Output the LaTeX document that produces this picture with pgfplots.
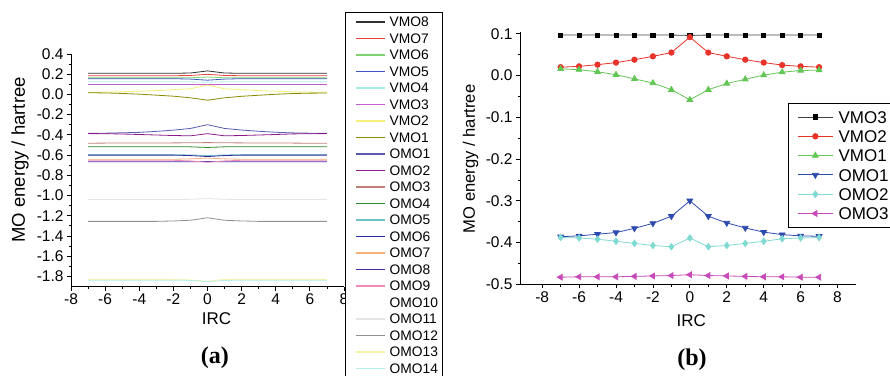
\documentclass[border=0pt]{standalone}
\usepackage{fontspec}
\setmainfont{Liberation Sans}
\newfontfamily\serifbf{Liberation Serif}
\usepackage{pgfplots}
\usepackage{pgfplotstable}
\pgfplotsset{compat=1.18}

\definecolor{cVMOe}{HTML}{303030}
\definecolor{cVMOs}{HTML}{E8413C}
\definecolor{cVMOsix}{HTML}{7ED36E}
\definecolor{cVMOfive}{HTML}{3A56C0}
\definecolor{cVMOfour}{HTML}{A8ECE6}
\definecolor{cVMOthree}{HTML}{C85CC8}
\definecolor{cVMOtwo}{HTML}{F5EE7A}
\definecolor{cVMOone}{HTML}{8A8A00}
\definecolor{cOMOone}{HTML}{5A5AB0}
\definecolor{cOMOtwo}{HTML}{8A1A8A}
\definecolor{cOMOthree}{HTML}{C08078}
\definecolor{cOMOfour}{HTML}{2A8A2A}
\definecolor{cOMOfive}{HTML}{6CC4C4}
\definecolor{cOMOsix}{HTML}{2A2AA0}
\definecolor{cOMOseven}{HTML}{F6B27A}
\definecolor{cOMOeight}{HTML}{4A2AA8}
\definecolor{cOMOnine}{HTML}{F088B8}
\definecolor{cOMOten}{HTML}{FFFFFF}
\definecolor{cOMOeleven}{HTML}{E4E4E4}
\definecolor{cOMOtwelve}{HTML}{909090}
\definecolor{cOMOthirteen}{HTML}{F8F2A8}
\definecolor{cOMOfourteen}{HTML}{B4ECEC}

\definecolor{rVMOthree}{HTML}{404040}
\definecolor{rVMOtwo}{HTML}{E8332A}
\definecolor{rVMOone}{HTML}{62C654}
\definecolor{rOMOone}{HTML}{2F4AAE}
\definecolor{rOMOtwo}{HTML}{7FDAD2}
\definecolor{rOMOthree}{HTML}{C64AB8}

\pgfplotstableread{
x VMO8 VMO7 VMO6 VMO5 VMO4 VMO3 VMO2 VMO1 OMO1 OMO2 OMO3 OMO4 OMO5 OMO6 OMO7 OMO8 OMO9 OMO10 OMO11 OMO12 OMO13 OMO14
-7 0.208 0.184 0.163 0.155 0.125 0.097 0.020 0.016 -0.386 -0.388 -0.483 -0.518 -0.598 -0.601 -0.642 -0.667 -0.652 -0.900 -1.040 -1.256 -1.832 -1.838
-6 0.208 0.184 0.163 0.155 0.125 0.097 0.022 0.014 -0.384 -0.389 -0.482 -0.518 -0.598 -0.601 -0.642 -0.667 -0.652 -0.900 -1.040 -1.256 -1.832 -1.838
-5 0.208 0.184 0.163 0.155 0.125 0.097 0.026 0.009 -0.380 -0.392 -0.482 -0.518 -0.598 -0.601 -0.642 -0.667 -0.652 -0.900 -1.040 -1.256 -1.832 -1.838
-4 0.208 0.184 0.163 0.155 0.125 0.097 0.031 0.002 -0.376 -0.397 -0.482 -0.518 -0.598 -0.601 -0.642 -0.667 -0.652 -0.900 -1.040 -1.256 -1.832 -1.838
-3 0.208 0.184 0.163 0.155 0.125 0.097 0.038 -0.008 -0.366 -0.402 -0.481 -0.518 -0.598 -0.601 -0.642 -0.667 -0.652 -0.900 -1.040 -1.256 -1.832 -1.838
-2 0.208 0.184 0.163 0.155 0.125 0.097 0.046 -0.018 -0.354 -0.407 -0.480 -0.518 -0.598 -0.601 -0.642 -0.667 -0.652 -0.900 -1.040 -1.252 -1.832 -1.838
-1 0.211 0.187 0.164 0.151 0.124 0.097 0.055 -0.034 -0.337 -0.410 -0.479 -0.519 -0.599 -0.605 -0.638 -0.666 -0.658 -0.900 -1.038 -1.245 -1.835 -1.840
0 0.232 0.198 0.172 0.140 0.120 0.096 0.092 -0.058 -0.300 -0.389 -0.477 -0.525 -0.605 -0.615 -0.630 -0.664 -0.672 -0.900 -1.030 -1.220 -1.848 -1.852
1 0.211 0.187 0.164 0.151 0.124 0.097 0.055 -0.034 -0.337 -0.410 -0.479 -0.519 -0.599 -0.605 -0.638 -0.666 -0.658 -0.900 -1.038 -1.245 -1.830 -1.840
2 0.208 0.184 0.163 0.155 0.125 0.097 0.046 -0.019 -0.353 -0.407 -0.480 -0.518 -0.598 -0.601 -0.642 -0.667 -0.652 -0.900 -1.040 -1.252 -1.832 -1.838
3 0.208 0.184 0.163 0.155 0.125 0.097 0.038 -0.009 -0.365 -0.402 -0.481 -0.518 -0.598 -0.601 -0.642 -0.667 -0.652 -0.900 -1.040 -1.256 -1.832 -1.838
4 0.208 0.184 0.163 0.155 0.125 0.097 0.031 0.001 -0.375 -0.397 -0.482 -0.518 -0.598 -0.601 -0.642 -0.667 -0.652 -0.900 -1.040 -1.256 -1.832 -1.838
5 0.208 0.184 0.163 0.155 0.125 0.097 0.025 0.008 -0.381 -0.391 -0.482 -0.518 -0.598 -0.601 -0.642 -0.667 -0.652 -0.900 -1.040 -1.256 -1.832 -1.838
6 0.208 0.184 0.163 0.155 0.125 0.097 0.022 0.012 -0.384 -0.389 -0.483 -0.518 -0.598 -0.601 -0.642 -0.667 -0.652 -0.900 -1.040 -1.256 -1.832 -1.838
7 0.208 0.184 0.163 0.155 0.125 0.097 0.020 0.013 -0.385 -0.388 -0.483 -0.518 -0.598 -0.601 -0.642 -0.667 -0.652 -0.900 -1.040 -1.256 -1.832 -1.838
}\irctable

\pgfplotsset{
  common/.style={
    scale only axis,
    clip mode=individual,
    axis lines=left,
    axis line style={-, line width=0.8pt, black},
    tick align=outside,
    tick style={black, line width=0.8pt},
    major tick length=4pt, minor tick length=2.5pt,
    minor x tick num=1, minor y tick num=1,
    xtick={-8,-6,-4,-2,0,2,4,6,8},
    tick label style={font=\fontsize{15.5}{15.5}\selectfont},
    /pgf/number format/assume math mode=true,
    y tick label style={/pgf/number format/.cd, fixed, fixed zerofill, precision=1, /tikz/.cd},
    x tick label style={/pgf/number format/.cd, fixed, precision=0, /tikz/.cd},
    legend cell align=left,
  },
}

\begin{document}
\begin{tikzpicture}
\useasboundingbox (0pt,0pt) rectangle (890pt,375pt);

% ---------- (a)
\begin{axis}[common,
  at={(71pt,88.5pt)}, anchor=south west,
  width=273pt, height=232.6pt,
  xmin=-8, xmax=8, ymin=-1.9, ymax=0.4,
  ytick={-1.8,-1.6,-1.4,-1.2,-1.0,-0.8,-0.6,-0.4,-0.2,0,0.2,0.4},
  xlabel={IRC},
  xlabel style={at={(axis description cs:0.533,-0.1655)}, anchor=base, font=\fontsize{17}{17}\selectfont},
  ylabel={MO energy / hartree},
  ylabel style={at={(axis description cs:-0.1685,0.544)}, anchor=base, rotate=0, font=\fontsize{18.5}{18.5}\selectfont},
  legend style={at={(axis description cs:1.0037,1.1814)}, anchor=north west,
    draw=black, line width=0.7pt, fill=white,
    inner xsep=4.3pt, inner ysep=5pt, row sep=6.6pt, column sep=4.3pt,
    font=\fontsize{13.8}{14}\selectfont,
    nodes={inner sep=0pt, text height=9.9pt, text depth=0pt}},
  legend image code/.code={\path (0pt,0pt); \draw[#1, line width=1.1pt] (5.7pt,0pt) -- (34.7pt,0pt);},
  every axis plot/.append style={line width=0.8pt, no markers},
]
\addplot[cVMOe] table[x=x,y=VMO8] {\irctable}; \addlegendentry{VMO8}
\addplot[cVMOs] table[x=x,y=VMO7] {\irctable}; \addlegendentry{VMO7}
\addplot[cVMOsix] table[x=x,y=VMO6] {\irctable}; \addlegendentry{VMO6}
\addplot[cVMOfive] table[x=x,y=VMO5] {\irctable}; \addlegendentry{VMO5}
\addplot[cVMOfour] table[x=x,y=VMO4] {\irctable}; \addlegendentry{VMO4}
\addplot[cVMOthree] table[x=x,y=VMO3] {\irctable}; \addlegendentry{VMO3}
\addplot[cVMOtwo] table[x=x,y=VMO2] {\irctable}; \addlegendentry{VMO2}
\addplot[cVMOone] table[x=x,y=VMO1] {\irctable}; \addlegendentry{VMO1}
\addplot[cOMOone] table[x=x,y=OMO1] {\irctable}; \addlegendentry{OMO1}
\addplot[cOMOtwo] table[x=x,y=OMO2] {\irctable}; \addlegendentry{OMO2}
\addplot[cOMOthree] table[x=x,y=OMO3] {\irctable}; \addlegendentry{OMO3}
\addplot[cOMOfour] table[x=x,y=OMO4] {\irctable}; \addlegendentry{OMO4}
\addplot[cOMOfive] table[x=x,y=OMO5] {\irctable}; \addlegendentry{OMO5}
\addplot[cOMOsix] table[x=x,y=OMO6] {\irctable}; \addlegendentry{OMO6}
\addplot[cOMOseven] table[x=x,y=OMO7] {\irctable}; \addlegendentry{OMO7}
\addplot[cOMOeight] table[x=x,y=OMO8] {\irctable}; \addlegendentry{OMO8}
\addplot[cOMOnine] table[x=x,y=OMO9] {\irctable}; \addlegendentry{OMO9}
\addplot[cOMOten] table[x=x,y=OMO10] {\irctable}; \addlegendentry{OMO10}
\addplot[cOMOeleven] table[x=x,y=OMO11] {\irctable}; \addlegendentry{OMO11}
\addplot[cOMOtwelve] table[x=x,y=OMO12] {\irctable}; \addlegendentry{OMO12}
\addplot[cOMOthirteen] table[x=x,y=OMO13] {\irctable}; \addlegendentry{OMO13}
\addplot[cOMOfourteen] table[x=x,y=OMO14] {\irctable}; \addlegendentry{OMO14}
\node[anchor=base, font=\serifbf\bfseries\fontsize{24}{24}\selectfont] at (axis description cs:0.527,-0.330) {(a)};
\end{axis}

% ---------- (b)
\begin{axis}[common,
  at={(520pt,90.7pt)}, anchor=south west,
  width=336pt, height=252.6pt,
  xmin=-9.2, xmax=9, ymin=-0.5, ymax=0.105,
  ytick={-0.5,-0.4,-0.3,-0.2,-0.1,0,0.1},
  xlabel={IRC},
  xlabel style={at={(axis description cs:0.51,-0.168)}, anchor=base, font=\fontsize{17}{17}\selectfont},
  ylabel={MO energy / hartree},
  ylabel style={at={(axis description cs:-0.134,0.496)}, anchor=base, rotate=0, font=\fontsize{16.6}{16.6}\selectfont},
  legend style={at={(axis description cs:0.797,0.719)}, anchor=north west,
    draw=black, line width=0.7pt, fill=white,
    inner xsep=3.5pt, inner ysep=7.9pt, row sep=7.1pt, column sep=5pt,
    font=\fontsize{17}{17}\selectfont,
    nodes={inner sep=0pt, text height=12.2pt, text depth=0pt}},
  legend image code/.code={\path (0pt,0pt); \draw[mark repeat=2, mark phase=2, #1, line width=0.9pt] plot coordinates {(5.5pt,0pt) (23.3pt,0pt) (41.1pt,0pt)};},
  every axis plot/.append style={line width=0.8pt},
]
\addplot[rVMOthree, mark=square*, mark size=2.1pt, mark options={solid, fill=black, draw=black}] table[x=x,y=VMO3] {\irctable}; \addlegendentry{VMO3}
\addplot[rVMOtwo, mark=*, mark size=2.7pt, mark options={solid, fill=rVMOtwo, draw=rVMOtwo}] table[x=x,y=VMO2] {\irctable}; \addlegendentry{VMO2}
\addplot[rVMOone, mark=triangle*, mark size=3.3pt, mark options={solid, fill=rVMOone, draw=rVMOone}] table[x=x,y=VMO1] {\irctable}; \addlegendentry{VMO1}
\addplot[rOMOone, mark=triangle*, mark size=3.3pt, mark options={solid, rotate=180, fill=rOMOone, draw=rOMOone}] table[x=x,y=OMO1] {\irctable}; \addlegendentry{OMO1}
\addplot[rOMOtwo, mark=diamond*, mark size=3.2pt, mark options={solid, fill=rOMOtwo, draw=rOMOtwo}] table[x=x,y=OMO2] {\irctable}; \addlegendentry{OMO2}
\addplot[rOMOthree, mark=triangle*, mark size=3.3pt, mark options={solid, rotate=90, fill=rOMOthree, draw=rOMOthree}] table[x=x,y=OMO3] {\irctable}; \addlegendentry{OMO3}
\node[anchor=base, font=\serifbf\bfseries\fontsize{24}{24}\selectfont] at (axis description cs:0.512,-0.3195) {(b)};
\end{axis}
\end{tikzpicture}
\end{document}
